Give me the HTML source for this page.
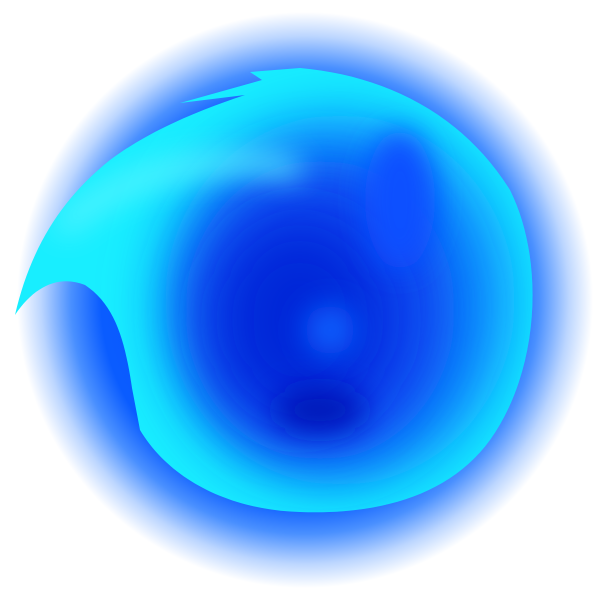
<!DOCTYPE html>
<html><head><meta charset="utf-8"><style>
html,body{margin:0;padding:0;background:#fff;width:616px;height:616px;overflow:hidden}
svg{display:block}
</style></head><body>
<svg width="616" height="616" viewBox="0 0 616 616">
<defs>
<radialGradient id="glow" cx="305" cy="300" r="300" gradientUnits="userSpaceOnUse">
<stop offset="0" stop-color="#0048ff"/>
<stop offset="0.68" stop-color="#0a5cff"/>
<stop offset="0.78" stop-color="#4a90ff"/>
<stop offset="0.88" stop-color="#bcd6ff"/>
<stop offset="0.96" stop-color="#ffffff"/>
</radialGradient>
<filter id="b30" filterUnits="userSpaceOnUse" x="0" y="0" width="616" height="616"><feGaussianBlur stdDeviation="30"/></filter>
<filter id="b15" filterUnits="userSpaceOnUse" x="0" y="0" width="616" height="616"><feGaussianBlur stdDeviation="15"/></filter>
<clipPath id="shape"><path d="M15,315 C30,250 60,200 110,160 C150,130 200,110 245,95 L180,103 L262,80 L250,72 L300,68 C380,75 460,110 510,190 C545,260 540,370 490,440 C450,495 380,515 300,512 C230,510 170,480 140,430 L132,388 C125,340 115,305 85,285 C60,275 35,285 15,315 Z"/></clipPath>
</defs>
<circle cx="305" cy="300" r="300" fill="url(#glow)"/>
<g clip-path="url(#shape)">
<rect width="616" height="616" fill="#18eeff"/>
<ellipse cx="340" cy="300" rx="175" ry="185" fill="#1090ff" filter="url(#b30)"/>
<ellipse cx="320" cy="310" rx="135" ry="150" fill="#0a44f0" filter="url(#b30)"/>
<ellipse cx="300" cy="320" rx="85" ry="100" fill="#0028d8" filter="url(#b30)"/>
<ellipse cx="320" cy="410" rx="45" ry="22" fill="#0018b8" filter="url(#b15)"/>
<ellipse cx="400" cy="200" rx="35" ry="70" fill="#0a50ff" filter="url(#b15)"/>
<path d="M60,230 C120,170 220,150 300,170" stroke="#60f4ff" stroke-width="18" fill="none" filter="url(#b15)"/>
<ellipse cx="330" cy="330" rx="25" ry="25" fill="#1060ff" filter="url(#b15)"/>
</g>
</svg>
</body></html>
